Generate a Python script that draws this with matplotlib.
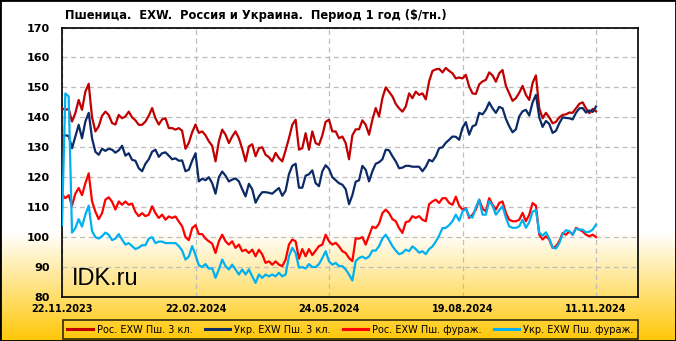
import matplotlib
matplotlib.use("Agg")
import matplotlib.pyplot as plt
import numpy as np
from matplotlib.patches import Rectangle
from matplotlib.lines import Line2D

# trading-day index axis, labelled every 40 points
DATE_LABELS = ["22.11.2023", "22.02.2024", "24.05.2024", "19.08.2024", "11.11.2024"]
DATE_POS = [0, 40, 80, 120, 160]

SERIES_NAMES = ["Рос. EXW Пш. 3 кл.", "Укр. EXW Пш. 3 кл.",
                "Рос. EXW Пш. фураж.", "Укр. EXW Пш. фураж."]

RUS_3 = [
    143, 142.5, 142.8, 138.6, 141.4, 145.8, 142.5, 148.6, 151.2, 140,
    135.3, 137, 140.5, 141.9, 140.8, 138.1, 137.6, 140.8, 139.7, 140.3,
    141.9, 140, 139, 137.5, 137.5, 138.6, 140.5, 143.1, 139.7, 137.6,
    139.3, 139.7, 136.4, 136.4, 135.9, 136.4, 135.5, 129.5, 131.5, 135,
    137.6, 134.8, 135.3, 134, 132, 130.5, 125.3, 132, 135.9, 134.2,
    131.4, 133.6, 135.3, 133, 129.5, 125.3, 130.3, 131, 127, 129.7,
    130, 127.5, 126.7, 125.3, 128.1, 126.4, 125.3, 129, 133, 137.5,
    139.2, 129.2, 129.7, 134.7, 129.2, 135.3, 131.4, 130.8, 134, 138.5,
    139.2, 135.3, 135.3, 133, 133.6, 131.4, 126, 134, 136, 136,
    139, 137.5, 134.2, 139.2, 143.1, 140.3, 146.4, 150, 148.5, 147,
    144.5, 143, 141.9, 143.6, 148, 146.4, 148.6, 147.5, 148, 146,
    152, 155.5, 156, 156.2, 155, 156.5, 155.5, 154.7, 153, 153.3,
    153, 154.2, 150.3, 148, 147.8, 151, 152, 152.5, 155, 154,
    151.9, 154.7, 155.8, 150.5, 148, 145.5, 146.4, 148.2, 150.5, 147.5,
    145.8, 151.5, 154, 143, 139.7, 141.5, 140, 138, 138.5, 140,
    140.8, 141, 141.6, 141.5, 143, 144.5, 145, 143, 141.4, 142.8, 142,
]

UKR_3 = [
    133.6, 134, 133.8, 129.7, 133.6, 137.5, 133, 138.6, 141.5, 133,
    128.5, 127.5, 129.5, 128.8, 129.5, 129.2, 128.2, 129, 130.5, 127.2,
    128, 125.8, 125.5, 123, 122, 124.5, 126, 128.5, 129.2, 126.8,
    128, 128.3, 127.2, 126, 126.3, 125.5, 125.6, 122, 122.5, 125.5,
    128, 118.6, 119.5, 119, 120, 118, 114.5, 120, 121.9, 120.5,
    118.6, 119.2, 119.6, 118.6, 116, 113.6, 117.8, 116, 111.5, 113.6,
    115, 115, 114.8, 114.5, 115.5, 116.4, 113.8, 115.5, 121, 123.8,
    124.5, 116.5, 116.5, 120.5, 121, 122.3, 118, 117, 122, 124,
    122.8, 120, 119, 118, 117.5, 116, 111, 114, 118.5, 119,
    123.8, 122.5, 118.6, 122, 124.5, 125, 126, 129.2, 129, 127,
    125.3, 123, 123.2, 123.8, 123.8, 123.5, 123.5, 123.5, 122, 123.5,
    125.8, 125.3, 127, 129.7, 130, 131.5, 132.5, 133.6, 133.5, 132.5,
    136.5, 138.4, 134.2, 137, 137.5, 141.5, 141, 142.5, 145, 143,
    141.5, 143.5, 143, 139.5, 137, 135, 136, 140.3, 142, 142.5,
    140.6, 145, 147.5, 140, 136.8, 138.8, 137.8, 134.8, 135.5, 138,
    140, 139.8, 139.7, 139.3, 141.5, 143, 143.1, 141.6, 142.3, 141.8, 143.6,
]

RUS_FEED = [
    114.2, 113, 114, 110.5, 114.5, 116.4, 114, 118, 121.3, 112,
    108.5, 106, 108, 112.5, 113.3, 111.8, 109.2, 111.9, 110.8, 111.9,
    110.8, 111.2, 108.4, 107, 108, 107, 107.5, 110.3, 108, 106.4,
    107.5, 105.8, 106.9, 106.4, 106.9, 105.2, 103.6, 100, 99, 103,
    104, 101, 101, 99.5, 98.6, 97.8, 94.7, 98.6, 100.8, 98.6,
    97.5, 98.6, 96.4, 97.5, 95.3, 95.8, 94.7, 95.8, 93.6, 95.8,
    94.2, 91.4, 91.9, 90.8, 91.9, 90.8, 90.3, 92.5, 97.5, 99.2,
    98.6, 92.8, 96, 93.6, 96, 94, 95.5, 97, 97.5, 100.8,
    98.6, 97.5, 98.1, 96.9, 95.3, 94.7, 93, 92, 99.6, 99.5,
    100, 97.5, 100.5, 103.5, 103, 104.5, 108, 109.2, 108, 106,
    105.3, 103, 101.4, 105, 105.3, 107, 106.4, 107, 105.8, 105.3,
    111, 111.9, 112.5, 111.4, 113, 113, 111.4, 110.8, 113.5, 110.5,
    109.2, 109.7, 106.4, 107.5, 109.2, 112.5, 109.5, 108.6, 113, 110.8,
    109.2, 111.4, 111.9, 108.1, 105.8, 105.3, 105.3, 105.8, 108.1, 105.3,
    107.5, 111.4, 110.5, 100.8, 99.2, 100.3, 99.2, 96.4, 96.9, 98.6,
    101.4, 100.8, 101.9, 100.8, 103.1, 102.5, 101.9, 100.8, 100.3, 100.8, 100,
]

UKR_FEED = [
    104, 148, 147, 101.5, 103, 106, 103.5, 107.5, 110.5, 102,
    100, 99.5, 100.3, 101.5, 100.8, 99, 99.5, 101, 99.2, 97.5,
    98, 97, 96, 96.5, 97.3, 97.3, 99.5, 100, 98, 98.5,
    98.5, 98, 98, 98, 98, 97, 95.5, 92.5, 93.5, 97,
    94, 90.6, 90, 91, 89.5, 89.6, 86.4, 89.2, 92.5, 90.3,
    89.2, 90.8, 89.2, 87.5, 89.2, 87.5, 89.2, 86.9, 84.7, 87.5,
    86.4, 87.5, 86.9, 87.5, 86.9, 88.1, 86.9, 87.5, 93.6, 96.4,
    94.7, 89.8, 90, 89.5, 91, 90, 90, 91, 93, 95.3,
    91.9, 90.8, 91.4, 90.3, 90.3, 89.2, 87.5, 85.5, 92, 93,
    93.5, 92.8, 93.5, 95.5, 95.5, 97, 99.5, 100.8, 99, 97,
    95.5, 94.3, 94.7, 95.8, 95.3, 96.9, 96, 94.8, 95.3, 94.3,
    96, 96.9, 98.5, 100.5, 103, 103.1, 104, 105.3, 107.5, 105.5,
    108.5, 109.5, 107, 106.5, 110, 112.5, 107.5, 107.5, 112, 110.5,
    107.5, 109, 110.3, 106.5, 103.6, 103.1, 103.1, 103.6, 105.8, 103.1,
    105, 108.5, 109, 101.5, 100.5, 101.6, 99.5, 96.5, 96.2, 98,
    101, 102.3, 102, 100.8, 102.8, 102.5, 102.5, 101.6, 101.8, 102.5, 104.2,
]

COLORS = ["#c00000", "#0b2a66", "#ff0000", "#00b0f0"]

W, H = 676, 341
fig = plt.figure(figsize=(W / 100, H / 100), dpi=100)

# white -> gold gradient behind everything
bg = fig.add_axes([0, 0, 1, 1], zorder=-10)
rows = np.arange(H)
t = np.clip((rows - 232) / (H - 232), 0, 1)[:, None]
white = np.array([1.0, 1.0, 1.0])
gold = np.array([1.0, 0.78, 0.02])
grad = white * (1 - t) + gold * t
bg.imshow(grad[:, None, :], aspect="auto", extent=[0, 1, 0, 1])
bg.axis("off")

ax = fig.add_axes([62 / W, 1 - 297 / H, (637.5 - 62) / W, (297 - 27.5) / H])
ax.patch.set_visible(False)

series = [RUS_3, UKR_3, RUS_FEED, UKR_FEED]
x = np.arange(len(RUS_3))
for vals, c in zip(series, COLORS):
    ax.plot(x, vals, color=c, lw=1.6, solid_joinstyle="round", zorder=3)

ax.set_ylim(80, 170)
ax.set_xlim(0, (637.5 - 62) / 534 * 160)
ax.set_yticks(range(80, 171, 10))
ax.set_xticks(DATE_POS)
ax.set_xticklabels(DATE_LABELS)
ax.tick_params(axis="y", length=0, pad=9, labelsize=8)
ax.tick_params(axis="x", length=0, pad=5, labelsize=7)
for lab in ax.get_yticklabels() + ax.get_xticklabels():
    lab.set_fontweight("bold")
ax.grid(True, color="#bdbdbd", ls=(0, (4, 3)), lw=0.9)
for s in ax.spines.values():
    s.set_color("black")
    s.set_linewidth(1.2)

fig.text(65 / W, 1 - 15 / H, "Пшеница.  EXW.  Россия и Украина.  Период 1 год ($/тн.)",
         fontsize=8.3, fontweight="bold", ha="left", va="center")
fig.text(72 / W, 1 - 285 / H, "IDK.ru", fontsize=17, family="Liberation Sans",
         ha="left", va="baseline")

handles = [Line2D([], [], color=c, lw=2.2) for c in COLORS]
leg = fig.legend(handles, SERIES_NAMES, loc="lower left",
                 bbox_to_anchor=(63 / W, 2 / H, (637.5 - 63) / W, 18 / H),
                 mode="expand", ncol=4, fontsize=7, frameon=True, fancybox=False,
                 edgecolor="black", facecolor="none", handlelength=2.6,
                 handletextpad=0.4, borderpad=0.45, borderaxespad=0, columnspacing=0.8)
leg.get_frame().set_linewidth(1.2)

fig.patches.append(Rectangle((0, 0), 1, 1, transform=fig.transFigure, fill=False,
                             edgecolor="black", lw=2))

fig.savefig("out.png", dpi=100)
